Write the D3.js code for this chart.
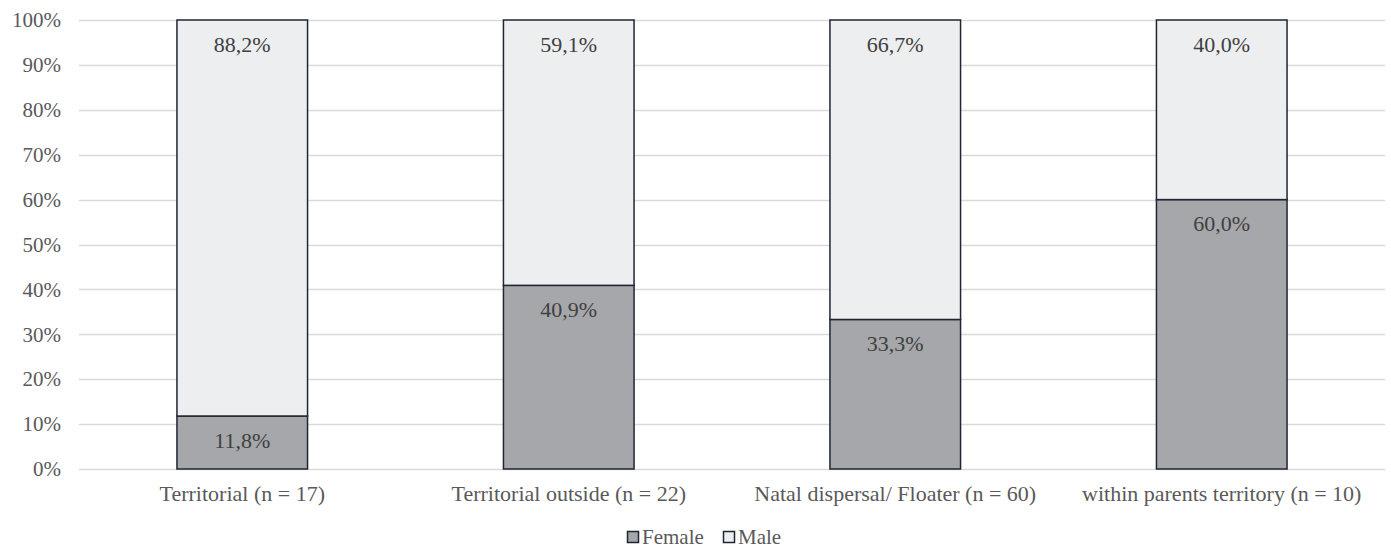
<!DOCTYPE html>
<html>
<head>
<meta charset="utf-8">
<script src="https://cdn.jsdelivr.net/npm/d3@7"></script>
<style>
  html, body { margin: 0; padding: 0; background: #fff; }
</style>
</head>
<body>
<svg id="chart" width="1391" height="549"></svg>
<script>
// Share of females and males per movement category
const categories = [
  "Territorial (n = 17)",
  "Territorial outside (n = 22)",
  "Natal dispersal/ Floater (n = 60)",
  "within parents territory (n = 10)"
];
const female = [11.8, 40.9, 33.3, 60.0];
const male = [88.2, 59.1, 66.7, 40.0];
const seriesNames = ["Female", "Male"];
const yTicks = [0, 10, 20, 30, 40, 50, 60, 70, 80, 90, 100];

const FONT = "'Liberation Serif', 'Times New Roman', serif";
const fills = { Female: "#a5a7aa", Male: "#edeef0" };
const stroke = "#1f2633";

const svg = d3.select("#chart").style("font-family", FONT);
const margin = { left: 79, right: 6 };
const W = 1391;

const x = d3.scaleBand()
  .domain(categories)
  .range([margin.left, W - margin.right])
  .paddingInner(0.6)
  .paddingOuter(0.3);

const y = d3.scaleLinear()
  .domain([0, 100])
  .range([469, 20]);

const fmt = v => v.toFixed(1).replace(".", ",") + "%";

// gridlines
svg.append("g")
  .selectAll("line")
  .data(yTicks)
  .join("line")
  .attr("x1", margin.left)
  .attr("x2", W - margin.right)
  .attr("y1", d => Math.round(y(d)) + 0.5)
  .attr("y2", d => Math.round(y(d)) + 0.5)
  .attr("stroke", "#d9d9d9")
  .attr("stroke-width", 1.5);

// y axis labels
const yAxis = d3.axisLeft(y)
  .tickValues(yTicks)
  .tickFormat(d => d + "%")
  .tickSize(0)
  .tickPadding(18);
const gy = svg.append("g")
  .attr("transform", `translate(${margin.left},0)`)
  .call(yAxis)
  .attr("font-family", null)
  .attr("font-size", null);
gy.select(".domain").remove();
gy.selectAll("text")
  .attr("fill", "#595959")
  .style("font-size", "21px")
  .style("font-family", FONT);

// stacked data
const rows = categories.map((c, i) => ({ cat: c, Female: female[i], Male: male[i] }));
const stack = d3.stack().keys(seriesNames)(rows);

const layers = svg.append("g")
  .selectAll("g")
  .data(stack)
  .join("g")
  .attr("fill", d => fills[d.key]);

layers.selectAll("rect")
  .data(d => d)
  .join("rect")
  .attr("x", d => x(d.data.cat))
  .attr("width", x.bandwidth())
  .attr("y", d => y(d[1]))
  .attr("height", d => y(d[0]) - y(d[1]))
  .attr("stroke", stroke)
  .attr("stroke-width", 1.5);

// value labels near the top of each segment
layers.selectAll("text")
  .data(d => d.map(p => ({ p, key: d.key })))
  .join("text")
  .attr("x", d => x(d.p.data.cat) + x.bandwidth() / 2)
  .attr("y", d => y(d.p[1]) + 24)
  .attr("dy", "0.35em")
  .attr("text-anchor", "middle")
  .attr("fill", "#404040")
  .style("font-size", "22px")
  .style("font-family", FONT)
  .text(d => fmt(d.p.data[d.key]));

// x axis labels
const xAxis = d3.axisBottom(x).tickSize(0).tickPadding(16);
const gx = svg.append("g")
  .attr("transform", `translate(0,${y(0)})`)
  .call(xAxis)
  .attr("font-family", null)
  .attr("font-size", null);
gx.select(".domain").remove();
gx.selectAll("text")
  .attr("fill", "#595959")
  .style("font-size", "22px")
  .style("font-family", FONT);

// legend
const legendItems = [
  { name: "Female", x: 627 },
  { name: "Male", x: 723 }
];
const lg = svg.append("g");
legendItems.forEach(it => {
  lg.append("rect")
    .attr("x", it.x + 0.5)
    .attr("y", 531.5)
    .attr("width", 11)
    .attr("height", 11)
    .attr("fill", fills[it.name])
    .attr("stroke", stroke)
    .attr("stroke-width", 1.5);
  lg.append("text")
    .attr("x", it.x + 15)
    .attr("y", 544)
    .attr("fill", "#595959")
    .style("font-size", "21px")
    .style("font-family", FONT)
    .text(it.name);
});
</script>
</body>
</html>
